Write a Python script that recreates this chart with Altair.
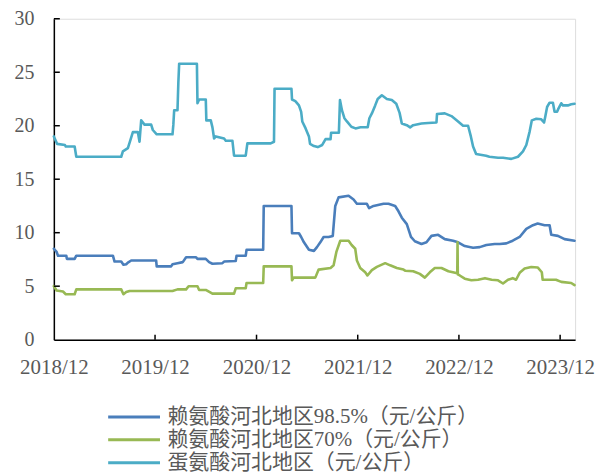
import altair as alt
import pandas as pd

# 赖氨酸河北地区98.5%（元/公斤）
lys98_dates = ["2018-12-01","2018-12-11","2018-12-16","2019-01-15","2019-01-17","2019-02-14","2019-02-20",
    "2019-07-02","2019-07-08","2019-08-01","2019-08-09","2019-08-19","2019-08-25","2019-09-06","2019-12-05",
    "2019-12-07","2020-01-28","2020-02-02","2020-02-20","2020-03-10","2020-03-22","2020-04-27","2020-05-02",
    "2020-06-01","2020-06-13","2020-06-25","2020-07-31","2020-08-06","2020-09-17","2020-09-20","2020-10-23",
    "2020-10-26","2020-12-25","2020-12-27","2021-04-06","2021-04-08","2021-05-03","2021-05-11","2021-05-21",
    "2021-06-08","2021-06-26","2021-07-07","2021-07-19","2021-07-31","2021-08-18","2021-09-02","2021-09-11",
    "2021-09-23","2021-10-29","2021-11-16","2021-11-28","2022-01-03","2022-01-11","2022-01-27","2022-03-04",
    "2022-03-22","2022-04-15","2022-04-27","2022-05-09","2022-05-27","2022-06-11","2022-06-25","2022-07-19",
    "2022-08-06","2022-08-24","2022-09-17","2022-10-11","2022-11-10","2022-11-28","2022-12-22","2023-01-21",
    "2023-02-14","2023-03-10","2023-04-09","2023-04-27","2023-05-21","2023-06-13","2023-07-08","2023-08-01",
    "2023-08-25","2023-09-11","2023-10-06","2023-10-24","2023-10-30","2023-11-23","2023-12-17","2024-01-22"]
lys98_values = [8.5,8.2,7.85,7.85,7.55,7.55,7.85,
    7.85,7.3,7.3,7.0,7.05,7.2,7.4,7.4,
    6.85,6.85,7.05,7.15,7.25,7.7,7.7,7.55,
    7.55,7.25,7.1,7.15,7.3,7.35,7.85,7.85,
    8.4,8.4,12.5,12.5,9.95,9.95,9.6,9.1,
    8.4,8.3,8.65,9.1,9.6,9.6,9.7,12.5,
    13.3,13.45,13.1,12.7,12.7,12.3,12.5,12.7,
    12.7,12.5,12.0,11.4,10.8,9.6,9.2,8.95,
    9.1,9.7,9.8,9.4,9.25,9.1,8.75,8.6,
    8.65,8.85,8.95,8.95,9.0,9.25,9.6,10.35,
    10.7,10.85,10.7,10.7,9.8,9.7,9.4,9.25]

# 赖氨酸河北地区70%（元/公斤）
lys70_dates = ["2018-12-01","2018-12-11","2019-01-03","2019-01-13","2019-02-14","2019-02-20","2019-08-01",
    "2019-08-09","2019-08-19","2019-08-31","2020-02-02","2020-02-20","2020-03-22","2020-03-31","2020-05-02",
    "2020-05-08","2020-06-01","2020-06-25","2020-09-11","2020-09-17","2020-10-23","2020-10-26","2020-12-25",
    "2020-12-27","2021-04-06","2021-04-08","2021-04-14","2021-07-01","2021-07-13","2021-08-25","2021-09-05",
    "2021-09-15","2021-09-29","2021-10-29","2021-11-09","2021-11-22","2021-11-28","2021-12-10","2021-12-28",
    "2022-01-05","2022-01-21","2022-02-08","2022-03-10","2022-03-28","2022-04-21","2022-05-15","2022-05-21",
    "2022-06-19","2022-07-13","2022-07-31","2022-08-18","2022-09-05","2022-09-29","2022-10-24","2022-11-25",
    "2022-11-26","2022-11-27","2022-12-04","2022-12-22","2023-01-15","2023-02-08","2023-03-05","2023-03-29",
    "2023-04-21","2023-05-09","2023-05-27","2023-06-13","2023-06-25","2023-07-08","2023-07-26","2023-08-19",
    "2023-09-11","2023-09-26","2023-09-29","2023-11-16","2023-12-05","2024-01-10","2024-01-22"]
lys70_values = [5.0,4.6,4.5,4.25,4.25,4.7,4.7,
    4.25,4.45,4.55,4.55,4.7,4.7,5.0,5.0,
    4.65,4.65,4.3,4.3,4.8,4.8,5.3,5.3,
    6.85,6.85,5.55,5.8,5.8,6.55,6.7,6.95,
    8.2,9.25,9.25,8.85,8.5,7.4,6.7,6.3,
    6.0,6.5,6.8,7.15,6.95,6.7,6.55,6.45,
    6.4,6.15,5.8,6.3,6.7,6.7,6.4,6.2,
    9.1,6.1,6.0,5.7,5.55,5.6,5.75,5.6,
    5.55,5.25,5.6,5.75,5.6,6.25,6.65,6.8,
    6.75,6.3,5.6,5.6,5.4,5.3,5.1]

# 蛋氨酸河北地区（元/公斤）
met_dates = ["2018-12-01","2018-12-13","2019-01-10","2019-01-13","2019-02-14","2019-02-20","2019-08-01",
    "2019-08-07","2019-08-25","2019-08-31","2019-09-12","2019-09-30","2019-10-06","2019-10-12","2019-10-24",
    "2019-11-17","2019-11-23","2019-12-07","2020-02-02","2020-02-05","2020-02-08","2020-02-20","2020-02-23",
    "2020-02-26","2020-04-30","2020-05-02","2020-05-08","2020-06-01","2020-06-03","2020-06-19","2020-06-25",
    "2020-07-01","2020-07-07","2020-08-06","2020-08-12","2020-09-05","2020-09-11","2020-10-23","2020-10-29",
    "2021-01-21","2021-02-02","2021-02-04","2021-04-06","2021-04-08","2021-04-20","2021-05-03","2021-05-11",
    "2021-05-15","2021-05-27","2021-06-08","2021-06-12","2021-06-26","2021-07-10","2021-07-26","2021-08-07",
    "2021-08-25","2021-08-27","2021-09-24","2021-09-28","2021-10-05","2021-10-14","2021-10-23","2021-11-08",
    "2021-11-23","2021-12-11","2022-01-06","2022-01-12","2022-01-21","2022-02-02","2022-02-11","2022-02-26",
    "2022-03-16","2022-04-03","2022-04-19","2022-05-01","2022-05-09","2022-05-27","2022-06-08","2022-06-19",
    "2022-07-19","2022-08-12","2022-09-11","2022-09-13","2022-10-11","2022-11-04","2022-11-28","2022-12-16",
    "2023-01-03","2023-01-13","2023-01-21","2023-02-01","2023-03-09","2023-03-21","2023-04-21","2023-05-09",
    "2023-06-08","2023-07-02","2023-07-20","2023-08-01","2023-08-13","2023-08-21","2023-09-06","2023-09-24",
    "2023-10-04","2023-10-08","2023-10-15","2023-10-24","2023-11-05","2023-11-11","2023-11-20","2023-11-25",
    "2023-12-05","2023-12-11","2023-12-29","2024-01-10","2024-01-22"]
met_values = [19.0,18.3,18.2,18.05,18.05,17.1,17.1,
    17.6,17.9,18.4,19.4,19.4,18.5,20.5,20.1,
    20.1,19.6,19.2,19.2,20.1,21.45,21.45,24.0,
    25.8,25.8,22.1,22.45,22.45,20.5,20.5,19.85,
    18.8,19.0,18.8,18.6,18.6,17.2,17.2,18.35,
    18.35,18.5,23.45,23.45,22.45,22.3,21.9,21.3,
    20.4,19.75,19.0,18.3,18.1,18.0,18.2,18.75,
    18.75,19.35,19.35,22.4,21.45,20.7,20.4,19.9,
    19.75,19.85,19.85,20.7,21.15,21.9,22.5,22.85,
    22.5,22.4,22.05,21.2,20.2,20.05,19.85,20.05,
    20.2,20.25,20.3,21.1,21.15,20.9,20.4,20.0,
    20.0,19.0,18.05,17.35,17.2,17.1,17.0,17.0,
    16.9,17.1,17.6,18.2,19.45,20.5,20.65,20.6,
    20.3,20.8,21.75,22.15,22.15,21.3,21.3,21.6,
    22.1,21.9,21.9,22.0,22.05]

series_names = ["赖氨酸河北地区98.5%（元/公斤）", "赖氨酸河北地区70%（元/公斤）", "蛋氨酸河北地区（元/公斤）"]
series_colors = ["#4A7EBB", "#98B954", "#4BACC6"]

y_ticks = [5, 10, 15, 20, 25, 30]
x_tick_years = [2018, 2019, 2020, 2021, 2022, 2023]

frames = []
for name, d, v in [(series_names[0], lys98_dates, lys98_values),
                   (series_names[1], lys70_dates, lys70_values),
                   (series_names[2], met_dates, met_values)]:
    frames.append(pd.DataFrame({"date": d, "value": v, "series": name}))
df = pd.concat(frames, ignore_index=True)

label_font = "Liberation Serif, Times New Roman, Noto Sans CJK SC"
x_domain = [alt.DateTime(year=2018, month=12, date=1, utc=True),
            alt.DateTime(year=2024, month=1, date=24, utc=True)]
x_values = [alt.DateTime(year=y, month=12, date=1, utc=True) for y in x_tick_years]

x_scale = alt.Scale(type="utc", domain=x_domain, nice=False)
y_scale = alt.Scale(domain=[0, 30], nice=False)

lines = alt.Chart(df).mark_line(strokeWidth=2.6, strokeJoin="round", strokeCap="round").encode(
    x=alt.X("date:T", scale=x_scale,
            axis=alt.Axis(values=x_values, labelExpr="utcFormat(datum.value, '%Y/%m')", title=None, grid=False,
                          ticks=False, domainColor="#000000", domainWidth=1.5,
                          labelFont=label_font, labelFontSize=21, labelColor="#595959",
                          labelPadding=17, labelFlush=False, labelOverlap=False)),
    y=alt.Y("value:Q", scale=y_scale,
            axis=alt.Axis(values=[0] + y_ticks, title=None, grid=False, ticks=False,
                          domainColor="#000000", domainWidth=1.5,
                          labelFont=label_font, labelFontSize=20, labelColor="#595959",
                          labelPadding=20)),
    color=alt.Color("series:N", sort=series_names,
                    scale=alt.Scale(domain=series_names, range=series_colors),
                    legend=alt.Legend(orient="none", legendX=69, legendY=388, title=None,
                                      direction="vertical", symbolType="M-2.6,0H2.6",
                                      symbolSize=400, symbolStrokeWidth=3,
                                      labelFont=label_font, labelFontSize=21,
                                      labelColor="#595959", labelOffset=22, rowPadding=1,
                                      padding=0, labelLimit=450)),
    detail="series:N",
)

ytick_df = pd.DataFrame({"v": y_ticks})
yticks = alt.Chart(ytick_df).mark_rule(color="#000000", strokeWidth=1.5).encode(
    y=alt.Y("v:Q", scale=y_scale), x=alt.value(0), x2=alt.value(6))

xtick_df = pd.DataFrame({"d": [f"{y}-12-01" for y in x_tick_years[1:]]})
xticks = alt.Chart(xtick_df).mark_rule(color="#000000", strokeWidth=1.5).encode(
    x=alt.X("d:T", scale=x_scale), y=alt.value(322), y2=alt.value(317))

chart = alt.layer(lines, yticks, xticks).properties(
    width=523, height=322,
    padding={"left": 46, "top": 10, "right": 30, "bottom": 134},
    autosize=alt.AutoSizeParams(type="none"),
).configure_view(stroke=None).configure(background="white")

chart.save("out.html", embed_options={"renderer": "svg", "actions": False})
